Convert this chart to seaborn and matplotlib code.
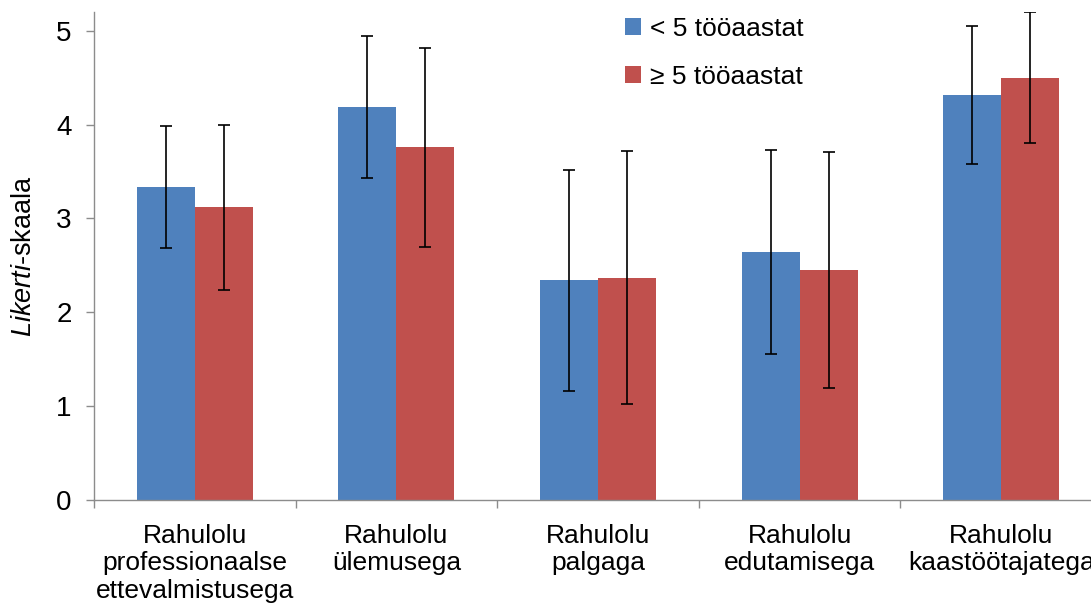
import matplotlib
matplotlib.use("Agg")
import matplotlib.pyplot as plt
import seaborn as sns
import pandas as pd
import numpy as np
from matplotlib.ticker import FixedLocator

# Satisfaction categories and the two work-experience groups
categories = [
    "Rahulolu\nprofessionaalse\nettevalmistusega",
    "Rahulolu\nülemusega",
    "Rahulolu\npalgaga",
    "Rahulolu\nedutamisega",
    "Rahulolu\nkaastöötajatega",
]
groups = ["< 5 tööaastat", "≥ 5 tööaastat"]

# Mean scores and standard deviations per group
mean_lt5 = [3.34, 4.19, 2.34, 2.64, 4.32]
sd_lt5 = [0.65, 0.755, 1.18, 1.085, 0.735]
mean_ge5 = [3.12, 3.76, 2.37, 2.45, 4.50]
sd_ge5 = [0.88, 1.06, 1.35, 1.26, 0.695]

colors = ["#4F81BD", "#C0504D"]

df = pd.DataFrame({
    "kategooria": categories * 2,
    "grupp": [groups[0]] * len(categories) + [groups[1]] * len(categories),
    "keskmine": mean_lt5 + mean_ge5,
})
sds = [sd_lt5, sd_ge5]
means = [mean_lt5, mean_ge5]

sns.set_style("white")
plt.rcParams["font.family"] = ["Liberation Sans", "DejaVu Sans"]
plt.rcParams["mathtext.fontset"] = "custom"
plt.rcParams["mathtext.it"] = "Liberation Sans:italic"
plt.rcParams["mathtext.rm"] = "Liberation Sans"
plt.rcParams["text.color"] = "black"
plt.rcParams["axes.labelcolor"] = "black"
plt.rcParams["xtick.labelcolor"] = "black"
plt.rcParams["ytick.labelcolor"] = "black"

fig = plt.figure(figsize=(10.91, 6.05), dpi=100)
ax = fig.add_axes([94 / 1091, 105 / 605, 1008 / 1091, 488 / 605])

sns.barplot(
    data=df, x="kategooria", y="keskmine", hue="grupp",
    order=categories, hue_order=groups, palette=colors,
    width=0.576, errorbar=None, saturation=1, ax=ax,
    edgecolor="none", linewidth=0,
)

# Standard deviation whiskers on each bar
for cont, m, s in zip(ax.containers, means, sds):
    xs = [b.get_x() + b.get_width() / 2 for b in cont]
    ax.errorbar(xs, m, yerr=s, fmt="none", ecolor="black",
                elinewidth=1.2, capsize=4.3, capthick=1.2, zorder=5)

ax.set_xlim(-0.5, len(categories) - 0.5)
ax.set_ylim(0, 5.2)
ax.set_yticks([0, 1, 2, 3, 4, 5])
ax.set_xlabel("")
ax.set_ylabel(r"$\it{Likerti}$-skaala", fontsize=19.5, color="black")
ax.yaxis.set_label_coords(-0.057, 0.5)

for side in ["top", "right"]:
    ax.spines[side].set_visible(False)
for side in ["left", "bottom"]:
    ax.spines[side].set_color("#8c8c8c")
    ax.spines[side].set_linewidth(1.0)

ax.tick_params(axis="y", which="major", length=6, width=1.0, color="#8c8c8c",
               labelsize=20, pad=10, left=True, labelcolor="black")
ax.tick_params(axis="x", which="major", length=0, labelsize=19, pad=17,
               labelcolor="black")
ax.xaxis.set_minor_locator(FixedLocator(np.arange(-0.5, len(categories), 1.0)))
ax.tick_params(axis="x", which="minor", length=6, width=1.0, color="#8c8c8c",
               bottom=True)
for lab in ax.get_xticklabels():
    lab.set_linespacing(1.2)

leg = ax.legend(
    loc="upper left", bbox_to_anchor=(625 / 1091, 1 - 17 / 605),
    bbox_transform=fig.transFigure, frameon=False, fontsize=19,
    handlelength=0.6, handleheight=0.6, handletextpad=0.35,
    labelspacing=0.9, borderpad=0, borderaxespad=0,
)
for t in leg.get_texts():
    t.set_color("black")

fig.savefig("out.png", dpi=100)
